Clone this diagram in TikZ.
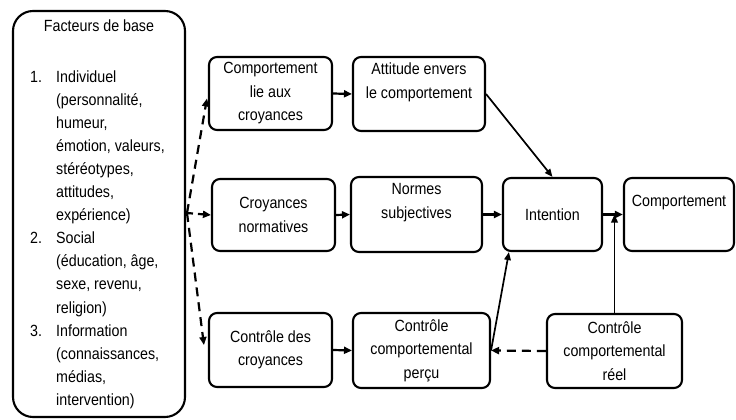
\documentclass[tikz,border=0pt]{standalone}
\usepackage{fontspec}
\setmainfont{Liberation Sans}[FakeStretch=0.88]
\usetikzlibrary{arrows.meta,calc}
\begin{document}
\begin{tikzpicture}[x=1pt,y=-1pt,
  every node/.style={font={\fontsize{16.2}{23.5}\selectfont}},
  boxn/.style={draw, line width=2.1pt, rounded corners=8pt, align=center, inner sep=2pt},
  arr/.style={line width=2.2pt, -{Triangle[length=8pt,width=7pt]}},
  thinarr/.style={line width=1.7pt, -{Triangle[length=8pt,width=6.5pt]}},
  dsh/.style={line width=2.2pt, dash pattern=on 9pt off 6pt, -{Triangle[length=8pt,width=7pt]}}
]
\useasboundingbox (0,0) rectangle (736,420);
% base box
\node[draw, line width=2.1pt, rounded corners=20pt, minimum width=172pt, minimum height=406pt] (base) at (99,214) {};
\node[anchor=base] (title) at (99,32) {Facteurs de base};
\node[anchor=base west, inner sep=0pt] (list) at (30,82) {\fontsize{16.2}{23.1}\selectfont\begin{tabular}[t]{@{}p{26pt}@{}l@{}}
1. & Individuel\\
 & (personnalité,\\
 & humeur,\\
 & émotion, valeurs,\\
 & stéréotypes,\\
 & attitudes,\\
 & expérience)\\
2. & Social\\
 & (éducation, âge,\\
 & sexe, revenu,\\
 & religion)\\
3. & Information\\
 & (connaissances,\\
 & médias,\\
 & intervention)
\end{tabular}};
% boxes
\node[boxn, minimum width=123pt, minimum height=73pt] (b1) at (270.5,93.5) {Comportement\\lie aux\\croyances};
\node[boxn, minimum width=132pt, minimum height=74pt] (att) at (419,94) {Attitude envers\\le comportement\\\phantom{Ag}};
\node[boxn, minimum width=123pt, minimum height=72pt] (cn) at (273.5,215) {Croyances\\normatives};
\node[boxn, minimum width=131pt, minimum height=75pt] (norm) at (416.5,214.5) {Normes\\subjectives\\\phantom{Ag}};
\node[boxn, minimum width=99pt, minimum height=73pt] (int) at (552.5,214.5) {Intention};
\node[boxn, minimum width=110pt, minimum height=73pt] (comp) at (679,214.5) {Comportement\\\phantom{Ag}};
\node[boxn, minimum width=123pt, minimum height=74pt] (cc) at (270.5,350) {Contrôle des\\croyances};
\node[boxn, minimum width=137pt, minimum height=75pt] (perc) at (421.5,350.5) {Contrôle\\comportemental\\perçu};
\node[boxn, minimum width=135pt, minimum height=74pt] (reel) at (614.5,351) {Contrôle\\comportemental\\réel};
% split point
\coordinate (split) at (187,213);
\draw[dsh] (split) -- ($(b1.west)+(-1,5)$);
\draw[dsh, dash pattern=on 6pt off 5pt] (split) -- (cn.west);
\draw[dsh] (split) -- ($(cc.west)+(-4,-5)$);
% solid arrows
\draw[arr] (b1.east) -- (att.west);
\draw[arr] (cn.east) -- (norm.west);
\draw[arr] (norm.east) -- (int.west);
\draw[arr] (int.east) -- (comp.west);
\draw[arr] (cc.east) -- (perc.west);
\draw[thinarr] (att.east) -- (int.north);
\draw[thinarr] (perc.east) -- ($(int.south west)+(7,0)$);
\draw[thinarr, line width=1.9pt] (reel.north) -- (reel.north |- int.east);
\draw[dsh] (reel.west) -- (perc.east);
\end{tikzpicture}
\end{document}
